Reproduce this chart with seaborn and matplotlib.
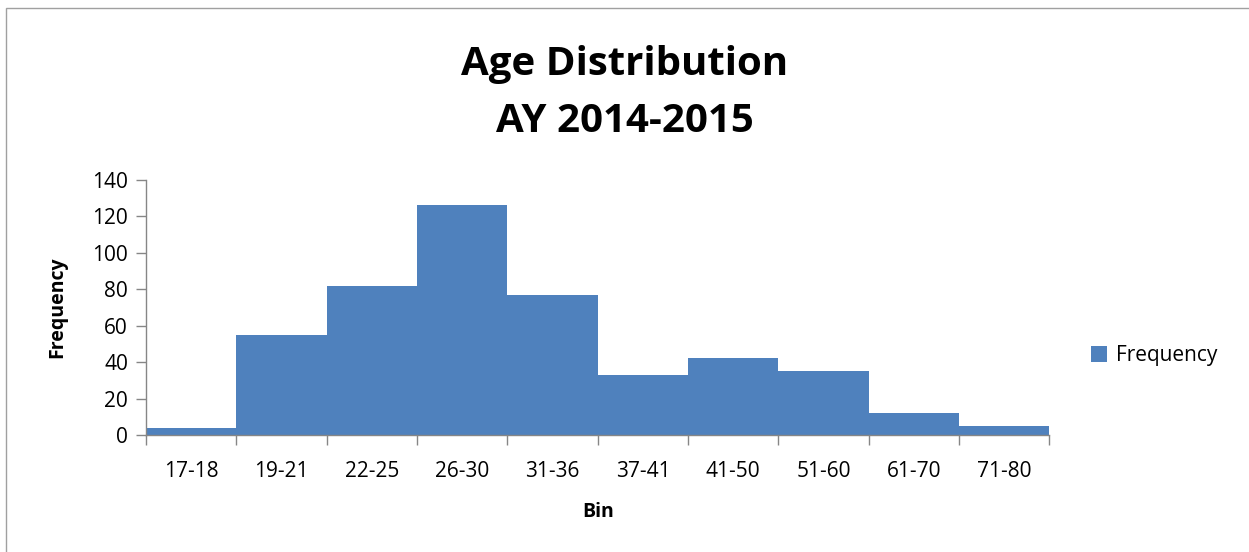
import matplotlib
matplotlib.use("Agg")
import matplotlib.pyplot as plt
import numpy as np
import pandas as pd
import seaborn as sns
from matplotlib.patches import Rectangle

# data
bins = ['17-18', '19-21', '22-25', '26-30', '31-36', '37-41', '41-50', '51-60', '61-70', '71-80']
freq = [4, 55, 82, 126, 77, 33, 42, 35, 12, 5]
y_ticks = [0, 20, 40, 60, 80, 100, 120, 140]

bar_color = '#4F81BD'
axis_gray = '#868686'

sns.set_theme(style="white")
plt.rcParams['font.family'] = ['Open Sans', 'DejaVu Sans']
plt.rcParams['text.color'] = 'black'

df = pd.DataFrame({'Bin': bins, 'Frequency': freq})

fig = plt.figure(figsize=(12.49, 5.52), dpi=100)
ax = fig.add_axes([0.1169, 0.212, 0.7233, 0.462])

sns.barplot(data=df, x='Bin', y='Frequency', color=bar_color, width=1.0,
            saturation=1, linewidth=0, ax=ax, label='Frequency')

ax.set_xlim(-0.5, len(bins) - 0.5)
ax.set_ylim(0, 140)
ax.set_yticks(y_ticks)

# tick marks at bin boundaries, labels centred under bars
ax.set_xticks(np.arange(len(bins)), bins)
ax.set_xticks(np.arange(len(bins) + 1) - 0.5, minor=True)
ax.tick_params(axis='x', which='major', length=0, pad=19, labelsize=15, labelcolor='black')
ax.tick_params(axis='x', which='minor', bottom=True, length=7, width=1, color=axis_gray, direction='out')
ax.tick_params(axis='y', left=True, length=7, width=1, color=axis_gray, direction='out',
               labelsize=15, labelcolor='black', pad=6)

for side in ['top', 'right']:
    ax.spines[side].set_visible(False)
for side in ['left', 'bottom']:
    ax.spines[side].set_color(axis_gray)
    ax.spines[side].set_linewidth(1)

ax.set_xlabel('Bin', fontsize=14, fontweight='bold', labelpad=14, color='black')
ax.set_ylabel('Frequency', fontsize=14, fontweight='bold', labelpad=18, color='black')

fig.suptitle('Age Distribution\nAY 2014-2015', fontsize=29, fontweight='bold',
             y=0.918, linespacing=1.6, color='black')

leg = ax.legend(loc='center left', bbox_to_anchor=(1.025, 0.31), frameon=False,
                fontsize=15, handlelength=0.8, handleheight=0.8, handletextpad=0.4)
for t in leg.get_texts():
    t.set_color('black')

# chart border
fig.patches.append(Rectangle((0.005, -0.01), 1.2, 0.996, transform=fig.transFigure,
                             fill=False, edgecolor='#A0A0A0', linewidth=1))

fig.savefig('out.png', dpi=100)
